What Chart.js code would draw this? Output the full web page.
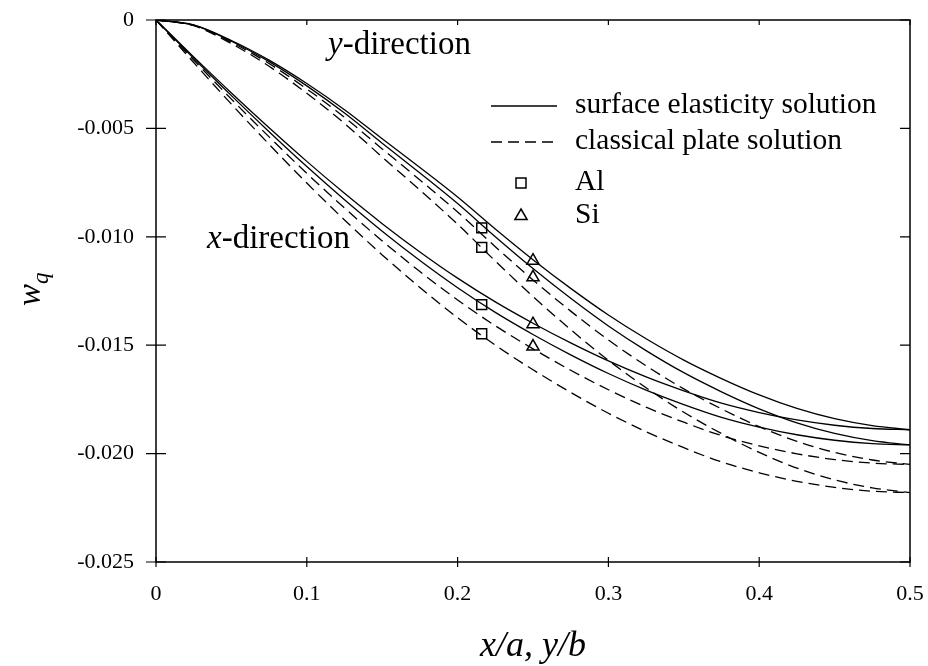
<!DOCTYPE html>
<html>
<head>
<meta charset="utf-8">
<script src="https://cdn.jsdelivr.net/npm/chart.js@4.4.1/dist/chart.umd.min.js"></script>
<style>
  body { margin: 0; background: #fff; }
  canvas { display: block; }
</style>
</head>
<body>
<canvas id="chart" width="928" height="666"></canvas>
<script>
// DATA
const xs = [0, 0.025, 0.05, 0.075, 0.1, 0.125, 0.15, 0.175, 0.2, 0.225, 0.25,
            0.275, 0.3, 0.325, 0.35, 0.375, 0.4, 0.425, 0.45, 0.475, 0.5];

// y-direction profiles
const yDirSiSurface = [0, -0.000227, -0.000945, -0.001852, -0.00293, -0.004139, -0.005481, -0.006804, -0.008165, -0.009639, -0.011057,
                       -0.01238, -0.013608, -0.014704, -0.015687, -0.016538, -0.017294, -0.017917, -0.01839, -0.018711, -0.0189];
const yDirAlSurface = [0, -0.000235, -0.00098, -0.001921, -0.003038, -0.004292, -0.005684, -0.007056, -0.008467, -0.009996, -0.011466,
                       -0.012838, -0.014112, -0.015249, -0.016268, -0.01715, -0.017934, -0.018581, -0.019071, -0.019404, -0.0196];
const yDirSiClassical = [0, -0.000246, -0.001025, -0.002009, -0.003178, -0.00449, -0.005945, -0.00738, -0.008856, -0.010455, -0.011993,
                         -0.013428, -0.01476, -0.015949, -0.017015, -0.017938, -0.018758, -0.019434, -0.019947, -0.020295, -0.0205];
const yDirAlClassical = [0, -0.000262, -0.00109, -0.002136, -0.003379, -0.004774, -0.006322, -0.007848, -0.009418, -0.011118, -0.012753,
                         -0.014279, -0.015696, -0.01696, -0.018094, -0.019075, -0.019947, -0.020666, -0.021211, -0.021582, -0.0218];

// x-direction profiles
const xDirSiSurface = [0, -0.001701, -0.003364, -0.004971, -0.006521, -0.007995, -0.009393, -0.010697, -0.011907, -0.013003, -0.013986,
                       -0.014893, -0.015725, -0.016462, -0.017105, -0.017672, -0.018106, -0.018446, -0.018692, -0.018843, -0.0189];
const xDirAlSurface = [0, -0.001764, -0.003489, -0.005155, -0.006762, -0.008291, -0.009741, -0.011094, -0.012348, -0.013485, -0.014504,
                       -0.015445, -0.016307, -0.017072, -0.017738, -0.018326, -0.018777, -0.01913, -0.019384, -0.019541, -0.0196];
const xDirSiClassical = [0, -0.001845, -0.003649, -0.005392, -0.007073, -0.008672, -0.010189, -0.011603, -0.012915, -0.014104, -0.01517,
                         -0.016154, -0.017056, -0.017856, -0.018553, -0.019168, -0.019639, -0.020008, -0.020275, -0.020439, -0.0205];
const xDirAlClassical = [0, -0.001962, -0.00388, -0.005733, -0.007521, -0.009221, -0.010835, -0.012339, -0.013734, -0.014998, -0.016132,
                         -0.017178, -0.018138, -0.018988, -0.019729, -0.020383, -0.020884, -0.021277, -0.02156, -0.021735, -0.0218];

// marker positions
const alX = [0.216, 0.216, 0.216, 0.216];
const alY = [-0.00959, -0.01049, -0.01313, -0.01447];
const siX = [0.25, 0.25, 0.25, 0.25];
const siY = [-0.0111, -0.01187, -0.01403, -0.01506];

// axis ticks
const xTicks = [0, 0.1, 0.2, 0.3, 0.4, 0.5];
const yTicks = [0, -0.005, -0.010, -0.015, -0.020, -0.025];

const SERIF = "'Liberation Serif', 'Times New Roman', serif";

function pts(xv, yv) {
    return xv.map((x, i) => ({ x: x, y: yv[i] }));
}

function curve(yv, dashed) {
    return {
        data: pts(xs, yv),
        showLine: true,
        borderColor: '#000',
        borderWidth: 1.3,
        borderDash: dashed ? [11, 6] : [],
        pointRadius: 0,
        cubicInterpolationMode: 'monotone',
        fill: false
    };
}

function markers(xv, yv, style) {
    return {
        data: pts(xv, yv),
        showLine: false,
        pointStyle: style,
        pointRadius: 7,
        pointBorderWidth: 1.5,
        pointBorderColor: '#000',
        pointBackgroundColor: 'rgba(0,0,0,0)'
    };
}

// frame, tick marks, legend and text labels
const decorPlugin = {
    id: 'decor',
    afterDraw(chart) {
        const ctx = chart.ctx;
        const a = chart.chartArea;
        const sx = chart.scales.x, sy = chart.scales.y;
        ctx.save();
        ctx.strokeStyle = '#000';
        ctx.lineWidth = 1.5;
        ctx.setLineDash([]);
        ctx.strokeRect(a.left, a.top, a.right - a.left, a.bottom - a.top);

        ctx.lineWidth = 1.2;
        ctx.beginPath();
        xTicks.forEach(v => {
            const px = sx.getPixelForValue(v);
            ctx.moveTo(px, a.bottom - 5); ctx.lineTo(px, a.bottom + 5);
            ctx.moveTo(px, a.top); ctx.lineTo(px, a.top + 5);
        });
        yTicks.forEach(v => {
            const py = sy.getPixelForValue(v);
            ctx.moveTo(a.left - 10, py); ctx.lineTo(a.left + 10, py);
            ctx.moveTo(a.right - 10, py); ctx.lineTo(a.right, py);
        });
        ctx.stroke();

        // legend
        const lx0 = 491, lx1 = 557, tx = 575;
        ctx.fillStyle = '#000';
        ctx.font = '29.5px ' + SERIF;
        ctx.textBaseline = 'middle';
        ctx.textAlign = 'left';
        ctx.lineWidth = 1.3;
        ctx.beginPath(); ctx.moveTo(lx0, 106); ctx.lineTo(lx1, 106); ctx.stroke();
        ctx.fillText('surface elasticity solution', tx, 105);
        ctx.setLineDash([11, 6]);
        ctx.beginPath(); ctx.moveTo(lx0, 142); ctx.lineTo(lx1, 142); ctx.stroke();
        ctx.setLineDash([]);
        ctx.fillText('classical plate solution', tx, 141);
        ctx.lineWidth = 1.5;
        ctx.strokeRect(521 - 5, 183 - 5, 10, 10);
        ctx.fillText('Al', tx, 182);
        ctx.beginPath();
        ctx.moveTo(521, 216 - 7); ctx.lineTo(521 + 6.1, 216 + 3.5); ctx.lineTo(521 - 6.1, 216 + 3.5);
        ctx.closePath(); ctx.stroke();
        ctx.fillText('Si', tx, 215);

        // direction labels
        ctx.textBaseline = 'alphabetic';
        const lab = (x, y, it, rest) => {
            ctx.font = 'italic 33px ' + SERIF;
            ctx.fillText(it, x, y);
            const w = ctx.measureText(it).width;
            ctx.font = '33px ' + SERIF;
            ctx.fillText(rest, x + w, y);
        };
        lab(328, 54, 'y', '-direction');
        lab(207, 248, 'x', '-direction');

        // x axis title
        ctx.font = 'italic 36px ' + SERIF;
        ctx.textAlign = 'center';
        ctx.fillText('x/a, y/b', (a.left + a.right) / 2, 656);

        // y axis title (rotated w with subscript q)
        ctx.translate(40, 306);
        ctx.rotate(-Math.PI / 2);
        ctx.textAlign = 'left';
        ctx.font = 'italic 33px ' + SERIF;
        ctx.fillText('w', 0, 0);
        const ww = ctx.measureText('w').width;
        ctx.font = 'italic 23px ' + SERIF;
        ctx.fillText('q', ww, 8);
        ctx.restore();
    }
};

new Chart(document.getElementById('chart'), {
    type: 'scatter',
    data: {
        datasets: [
            curve(yDirSiSurface, false),
            curve(yDirAlSurface, false),
            curve(yDirSiClassical, true),
            curve(yDirAlClassical, true),
            curve(xDirSiSurface, false),
            curve(xDirAlSurface, false),
            curve(xDirSiClassical, true),
            curve(xDirAlClassical, true),
            markers(alX, alY, 'rect'),
            markers(siX, siY, 'triangle')
        ]
    },
    options: {
        responsive: false,
        animation: false,
        layout: { padding: { top: 20, right: 18, left: 0, bottom: 0 } },
        plugins: { legend: { display: false }, tooltip: { enabled: false } },
        scales: {
            x: {
                type: 'linear',
                min: 0, max: 0.5,
                afterFit: s => { s.height = 104; s.paddingLeft = 0; s.paddingRight = 0; },
                afterBuildTicks: s => { s.ticks = xTicks.map(v => ({ value: v })); },
                grid: { display: false, drawTicks: false },
                border: { display: false },
                ticks: {
                    padding: 19,
                    color: '#000',
                    font: { family: SERIF, size: 22 },
                    callback: v => v === 0 ? '0' : v.toFixed(1)
                }
            },
            y: {
                type: 'linear',
                min: -0.025, max: 0,
                afterFit: s => { s.width = 156; s.paddingTop = 0; s.paddingBottom = 0; },
                afterBuildTicks: s => { s.ticks = yTicks.map(v => ({ value: v })); },
                grid: { display: false, drawTicks: false },
                border: { display: false },
                ticks: {
                    padding: 22,
                    color: '#000',
                    font: { family: SERIF, size: 22 },
                    callback: v => v === 0 ? '0' : v.toFixed(3)
                }
            }
        }
    },
    plugins: [decorPlugin]
});
</script>
</body>
</html>
